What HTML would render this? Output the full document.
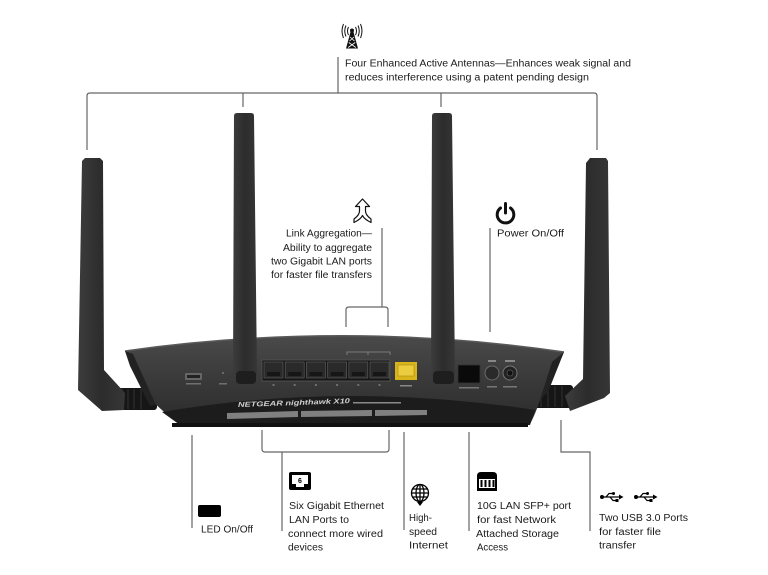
<!DOCTYPE html>
<html><head><meta charset="utf-8">
<style>
html,body{margin:0;padding:0;background:#fff;}
svg{display:block;}
text{font-family:"Liberation Sans",sans-serif;font-size:10px;fill:#1a1a1a;}
</style></head>
<body>
<svg width="768" height="575" viewBox="0 0 768 575" xmlns="http://www.w3.org/2000/svg">
<defs>
<linearGradient id="face" x1="0" y1="0" x2="0" y2="1">
<stop offset="0" stop-color="#4a4a4a"/>
<stop offset="0.45" stop-color="#3b3b3b"/>
<stop offset="1" stop-color="#2b2b2b"/>
</linearGradient>
<linearGradient id="ant" x1="0" y1="0" x2="1" y2="0">
<stop offset="0" stop-color="#3c3c3c"/>
<stop offset="0.5" stop-color="#2c2c2c"/>
<stop offset="1" stop-color="#363636"/>
</linearGradient>
</defs>

<!-- connector lines -->
<g stroke="#666" stroke-width="1.2" fill="none">
<path d="M338,57 V93"/>
<path d="M87,150 V96 Q87,93 90,93 H594 Q597,93 597,96 V150"/>
<path d="M243,93 V107 M441,93 V107"/>
<path d="M382,228 V307"/>
<path d="M346,327 V310 Q346,307 349,307 H385 Q388,307 388,310 V327"/>
<path d="M490,228 V332"/>
<path d="M192,435 V528"/>
<path d="M262,430 V449 Q262,452 265,452 H386 Q389,452 389,449 V430"/>
<path d="M282,452 V531"/>
<path d="M404,432 V530"/>
<path d="M469,432 V531"/>
<path d="M561,420 V452 H590 V531"/>
</g>

<!-- tower icon -->
<g>
<g stroke="#111" stroke-width="1" fill="none">
<path d="M348.5,27 Q346.5,31 348.5,35"/>
<path d="M346,25.5 Q343.5,31 346,36.5"/>
<path d="M343.5,24 Q340.5,31 343.5,38"/>
<path d="M355.5,27 Q357.5,31 355.5,35"/>
<path d="M358,25.5 Q360.5,31 358,36.5"/>
<path d="M360.5,24 Q363.5,31 360.5,38"/>
</g>
<circle cx="352" cy="30.5" r="2" fill="#111"/>
<polygon points="350.5,32 353.5,32 358,48.5 346,48.5" fill="#111"/>
<g stroke="#fff" stroke-width="0.8">
<path d="M350,37 L354.5,41 M354,37 L349.5,41 M348.8,42.5 L355.8,47.5 M355.2,42.5 L348.2,47.5"/>
</g>
</g>

<!-- top text -->
<text x="345" y="66.5" textLength="286" lengthAdjust="spacingAndGlyphs">Four Enhanced Active Antennas—Enhances weak signal and</text>
<text x="345" y="80.5" textLength="244" lengthAdjust="spacingAndGlyphs">reduces interference using a patent pending design</text>

<!-- link aggregation icon -->
<path d="M362.5,199 L369.5,206.5 L365.5,206.5 L365.5,211 Q365.5,215 371,219 L371,222.5 Q364,219 362.5,215.5 Q361,219 354,222.5 L354,219 Q359.5,215 359.5,211 L359.5,206.5 L355.5,206.5 Z" fill="#fff" stroke="#111" stroke-width="1.2" stroke-linejoin="round"/>
<text x="372" y="236.5" text-anchor="end" textLength="86" lengthAdjust="spacingAndGlyphs">Link Aggregation—</text>
<text x="372" y="251" text-anchor="end" textLength="89" lengthAdjust="spacingAndGlyphs">Ability to aggregate</text>
<text x="372" y="264.5" text-anchor="end" textLength="101" lengthAdjust="spacingAndGlyphs">two Gigabit LAN ports</text>
<text x="372" y="278" text-anchor="end" textLength="101" lengthAdjust="spacingAndGlyphs">for faster file transfers</text>

<!-- power icon -->
<g stroke="#111" stroke-width="3" fill="none" stroke-linecap="round">
<path d="M500.5,208 A8.3,8.3 0 1 0 510.5,208"/>
<path d="M505.5,203.5 V213"/>
</g>
<text x="497" y="236.5" textLength="67" lengthAdjust="spacingAndGlyphs">Power On/Off</text>

<!-- ROUTER -->
<rect x="113" y="388" width="44" height="22" rx="3" fill="#161616"/>
<g stroke="#333" stroke-width="1"><path d="M122,389 V409 M128,389 V409 M134,389 V409 M141,389 V409"/></g>
<rect x="533" y="385" width="40" height="23" rx="3" fill="#161616"/>
<g stroke="#333" stroke-width="1"><path d="M541,386 V407 M548,386 V407 M555,386 V407 M562,386 V407"/></g>

<!-- body -->
<path d="M125,351 Q345,320 564,352 L550,382 L540,400 Q535,415 530,424 L180,424 Q160,410 150,398 L132,368 Z" fill="url(#face)"/>
<path d="M125,351 Q345,320 564,352" fill="none" stroke="#5a5a5a" stroke-width="1.5"/>
<polygon points="125,351 133,354 156,405 150,406 130,366" fill="#222"/>
<polygon points="552,362 564,352 548,392 540,400" fill="#222"/>
<!-- lower lip / stand -->
<path d="M162,412 Q345,381 535,410 L530,425 L180,425 Z" fill="#1c1c1c"/>
<rect x="172" y="423" width="356" height="4" fill="#111"/>
<g fill="#808080">
<polygon points="227,413 298,411 298,417 227,419"/>
<polygon points="301,411 372,410 372,416 301,417"/>
<polygon points="375,410 427,410 427,415 375,416"/>
</g>
<text x="238" y="407" font-size="7" font-style="italic" font-weight="bold" style="fill:#cfcfcf;font-size:7px" transform="rotate(-2 238 407)" textLength="112" lengthAdjust="spacingAndGlyphs">NETGEAR nighthawk X10</text>
<rect x="353" y="402" width="48" height="1.5" fill="#8a8a8a"/>

<!-- ports -->
<rect x="185" y="373" width="17" height="7" rx="1" fill="#666"/>
<rect x="187" y="375" width="13" height="3" fill="#222"/>
<rect x="186" y="383" width="15" height="1.5" fill="#6f6f6f"/>
<circle cx="223" cy="373" r="1" fill="#777"/>
<rect x="219" y="383" width="8" height="1.5" fill="#6f6f6f"/>

<rect x="262" y="360" width="128" height="21" fill="#151515" stroke="#4e4e4e" stroke-width="1"/>
<g fill="#2a2a2a" stroke="#5a5a5a" stroke-width="0.7">
<rect x="264" y="362" width="19" height="16"/>
<rect x="285.2" y="362" width="19" height="16"/>
<rect x="306.4" y="362" width="19" height="16"/>
<rect x="327.6" y="362" width="19" height="16"/>
<rect x="348.8" y="362" width="19" height="16"/>
<rect x="370" y="362" width="19" height="16"/>
</g>
<g fill="#161616">
<rect x="267" y="372" width="13" height="4"/>
<rect x="288.2" y="372" width="13" height="4"/>
<rect x="309.4" y="372" width="13" height="4"/>
<rect x="330.6" y="372" width="13" height="4"/>
<rect x="351.8" y="372" width="13" height="4"/>
<rect x="373" y="372" width="13" height="4"/>
</g>
<g fill="#6f6f6f">
<rect x="272.5" y="384" width="2" height="2"/>
<rect x="293.7" y="384" width="2" height="2"/>
<rect x="314.9" y="384" width="2" height="2"/>
<rect x="336.1" y="384" width="2" height="2"/>
<rect x="357.3" y="384" width="2" height="2"/>
<rect x="378.5" y="384" width="2" height="2"/>
</g>
<path d="M347,355 V352 H390 V355 M368,352 V355" stroke="#8a8a8a" stroke-width="0.8" fill="none"/>

<rect x="395" y="362" width="22" height="18" fill="#d9b51c"/>
<rect x="398" y="365" width="16" height="11" fill="#eccd40" stroke="#a88a10" stroke-width="0.6"/>
<rect x="400" y="385" width="12" height="1.5" fill="#888"/>

<rect x="458" y="365" width="22" height="18" fill="#0a0a0a" stroke="#333" stroke-width="0.8"/>
<rect x="459" y="387" width="20" height="1.5" fill="#777"/>

<circle cx="492" cy="373" r="7" fill="#2a2a2a" stroke="#6a6a6a" stroke-width="1"/>
<rect x="488" y="360" width="8" height="2" fill="#888"/>
<rect x="487" y="386" width="10" height="1.5" fill="#777"/>
<circle cx="510" cy="373" r="7" fill="#222" stroke="#777" stroke-width="1"/>
<circle cx="510" cy="373" r="3" fill="#111" stroke="#555" stroke-width="0.8"/>
<rect x="505" y="360" width="10" height="2" fill="#888"/>
<rect x="503" y="386" width="14" height="1.5" fill="#777"/>

<!-- outer antennas -->
<polygon points="82,161 85,158 100,158 103,161 104,370 125,393 124,410 102,411 78,390" fill="url(#ant)"/>
<polygon points="586,163 590,158 606,158 608,161 610,393 604,398 570,411 565,396 583,379" fill="url(#ant)"/>

<!-- inner antennas -->
<path d="M234,116 Q234,113 237,113 H251 Q254,113 254,116 L257,375 H233 Z" fill="url(#ant)"/>
<rect x="236" y="371" width="20" height="13" rx="4" fill="#1e1e1e"/>
<path d="M432,116 Q432,113 435,113 H449 Q452,113 452,116 L455,375 H431 Z" fill="url(#ant)"/>
<rect x="433" y="371" width="21" height="13" rx="4" fill="#1e1e1e"/>

<!-- bottom icons & labels -->
<rect x="198" y="505" width="23" height="12" rx="2" fill="#000"/>
<text x="201" y="532.5" textLength="52" lengthAdjust="spacingAndGlyphs">LED On/Off</text>

<rect x="289" y="472" width="22" height="18" rx="2" fill="#000"/>
<path d="M292,475 H308 V484 H304 V487 H296 V484 H292 Z" fill="#fff"/>
<text x="300" y="483" text-anchor="middle" style="font-size:7px;font-weight:bold;fill:#000">6</text>
<text x="289" y="509" textLength="95" lengthAdjust="spacingAndGlyphs">Six Gigabit Ethernet</text>
<text x="289" y="523" textLength="60" lengthAdjust="spacingAndGlyphs">LAN Ports to</text>
<text x="288" y="537" textLength="95" lengthAdjust="spacingAndGlyphs">connect more wired</text>
<text x="288" y="550.5" textLength="35" lengthAdjust="spacingAndGlyphs">devices</text>

<g stroke="#000" stroke-width="1.3" fill="none">
<circle cx="420" cy="493" r="8.5"/>
<ellipse cx="420" cy="493" rx="4" ry="8.5"/>
<path d="M420,484.5 V501.5 M411.5,493 H428.5 M413,489 H427 M413,497 H427"/>
</g>
<polygon points="417,502 423,502 420,506" fill="#000"/>
<text x="409" y="521" textLength="23" lengthAdjust="spacingAndGlyphs">High-</text>
<text x="409" y="535" textLength="28" lengthAdjust="spacingAndGlyphs">speed</text>
<text x="409" y="548.5" textLength="39" lengthAdjust="spacingAndGlyphs">Internet</text>

<path d="M477,491 V476 Q477,472 481,472 H493 Q497,472 497,476 V491 Z" fill="#000"/>
<rect x="479" y="479" width="16" height="9" fill="#fff"/>
<g fill="#000">
<rect x="480.5" y="480" width="2" height="7"/>
<rect x="484.5" y="480" width="2" height="7"/>
<rect x="488.5" y="480" width="2" height="7"/>
<rect x="492.5" y="480" width="2" height="7"/>
</g>
<text x="477" y="509" textLength="94" lengthAdjust="spacingAndGlyphs">10G LAN SFP+ port</text>
<text x="477" y="523" textLength="79" lengthAdjust="spacingAndGlyphs">for fast Network</text>
<text x="476" y="537" textLength="83" lengthAdjust="spacingAndGlyphs">Attached Storage</text>
<text x="477" y="550.5" textLength="31" lengthAdjust="spacingAndGlyphs">Access</text>

<g transform="translate(600,492)">
<circle cx="2" cy="5" r="2" fill="#000"/>
<path d="M2,5 H20 M6,5 L9,1.5 H13 M10,5 L13,8.5 H16" stroke="#000" stroke-width="1.2" fill="none"/>
<polygon points="19,2.5 23.5,5 19,7.5" fill="#000"/>
<circle cx="13.5" cy="1.5" r="1.5" fill="#000"/>
<rect x="15.5" y="7" width="3" height="3" fill="#000"/>
</g>
<g transform="translate(634,492)">
<circle cx="2" cy="5" r="2" fill="#000"/>
<path d="M2,5 H20 M6,5 L9,1.5 H13 M10,5 L13,8.5 H16" stroke="#000" stroke-width="1.2" fill="none"/>
<polygon points="19,2.5 23.5,5 19,7.5" fill="#000"/>
<circle cx="13.5" cy="1.5" r="1.5" fill="#000"/>
<rect x="15.5" y="7" width="3" height="3" fill="#000"/>
</g>
<text x="599" y="521" textLength="89" lengthAdjust="spacingAndGlyphs">Two USB 3.0 Ports</text>
<text x="599" y="535" textLength="62" lengthAdjust="spacingAndGlyphs">for faster file</text>
<text x="599" y="548.5" textLength="37" lengthAdjust="spacingAndGlyphs">transfer</text>
</svg>
</body></html>
